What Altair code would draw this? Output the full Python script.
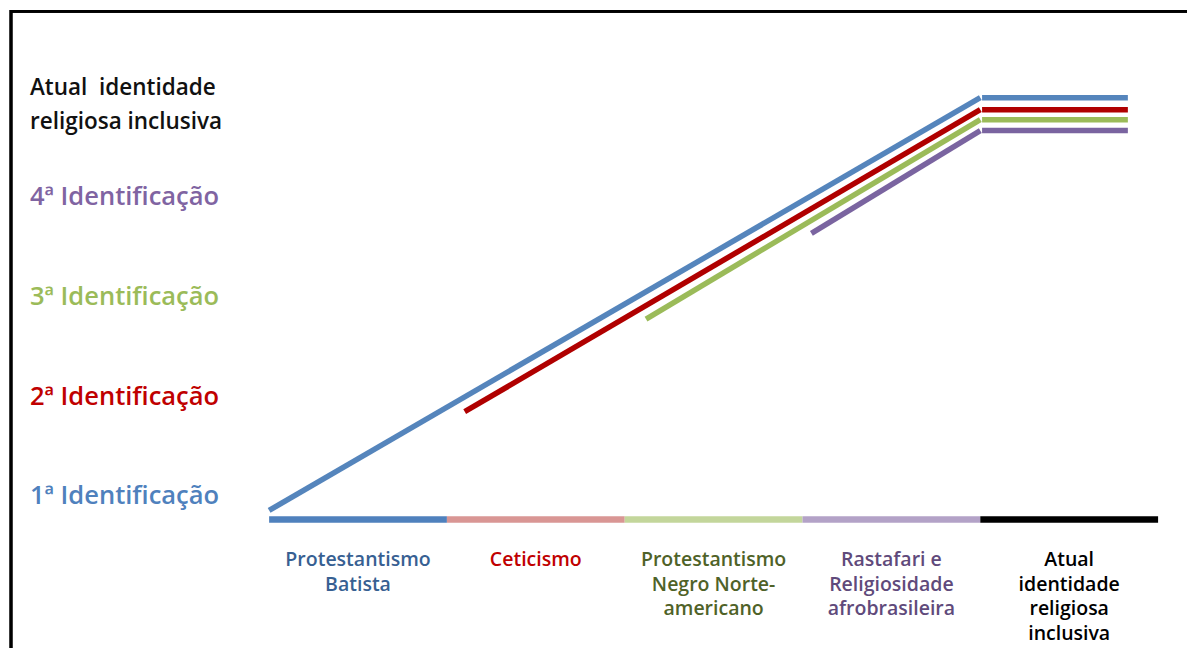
import altair as alt
import pandas as pd

# ---- data (x: stage index, y: identification level) ----
stage_names = [
    "Protestantismo\nBatista",
    "Ceticismo",
    "Protestantismo\nNegro Norte-\namericano",
    "Rastafari e\nReligiosidade\nafrobrasileira",
    "Atual\nidentidade\nreligiosa\ninclusiva",
]
stage_start = [0, 1, 2, 3, 4]
stage_end = [1, 2, 3, 4, 5]
stage_bar_colors = ["#4F81BD", "#D99694", "#C3D69B", "#B3A2C7", "#000000"]
stage_text_colors = ["#376092", "#C00000", "#4F6228", "#604A7B", "#000000"]
stage_bar_level = 0.77
stage_label_level = 0.30

level_labels = [
    "1ª Identificação",
    "2ª Identificação",
    "3ª Identificação",
    "4ª Identificação",
    "Atual\u00a0 identidade\nreligiosa inclusiva",
]
level_values = [1.0, 2.0, 3.0, 4.0, 5.1]
level_colors = ["#4F81BD", "#C00000", "#9BBB59", "#8064A2", "#111111"]
level_font_sizes = [25.5, 25.5, 25.5, 25.5, 22.5]
label_column = -1.345

path_names = ["1ª", "2ª", "3ª", "4ª"]
path_start_x = [0.0, 1.10, 2.12, 3.05]
path_start_y = [0.86, 1.85, 2.78, 3.64]
path_bend_x = [4.0, 4.0, 4.0, 4.0]
path_flat_start_x = [4.01, 4.01, 4.01, 4.01]
path_end_x = [4.83, 4.83, 4.83, 4.83]
path_top_y = [5.0, 4.88, 4.78, 4.67]
path_colors = ["#5585BC", "#B00000", "#9BBB59", "#7A64A0"]

# ---- tables ----
bars = pd.DataFrame({
    "x": stage_start, "x2": stage_end,
    "y": [stage_bar_level] * 5, "color": stage_bar_colors,
})
stage_labels = pd.DataFrame({
    "x": [(a + b) / 2 for a, b in zip(stage_start, stage_end)],
    "y": [stage_label_level] * 5,
    "text": stage_names, "color": stage_text_colors,
})
lvl = pd.DataFrame({
    "x": [label_column] * 5, "y": level_values, "text": level_labels,
    "color": level_colors, "size": level_font_sizes,
})
segs = []
for i, n in enumerate(path_names):
    segs.append({"x": path_start_x[i], "y": path_start_y[i], "x2": path_bend_x[i],
                 "y2": path_top_y[i], "color": path_colors[i], "name": n})
    segs.append({"x": path_flat_start_x[i], "y": path_top_y[i], "x2": path_end_x[i],
                 "y2": path_top_y[i], "color": path_colors[i], "name": n})
paths = pd.DataFrame(segs)

# plot area; pixel scale: 178.4 px per stage, 100 px per level
W, H = 1179, 640
x0_px, y0_px = 260, 590          # where stage 0 / level 0 fall inside the view
xs = alt.Scale(domain=[-x0_px / 178.4, (W - x0_px) / 178.4], nice=False, zero=False)
ys = alt.Scale(domain=[(y0_px - H) / 100, y0_px / 100], nice=False, zero=False)
X = lambda f: alt.X(f, type="quantitative", scale=xs, axis=None)
Y = lambda f: alt.Y(f, type="quantitative", scale=ys, axis=None)

bar_layer = alt.Chart(bars).mark_rule(strokeWidth=6.5, strokeCap="butt").encode(
    x=X("x"), x2="x2", y=Y("y"), color=alt.Color("color:N", scale=None)
)
path_layer = alt.Chart(paths).mark_rule(strokeWidth=5.5, strokeCap="butt").encode(
    x=X("x"), x2="x2", y=Y("y"), y2="y2", color=alt.Color("color:N", scale=None)
)
stage_text = alt.Chart(stage_labels).mark_text(
    font="Open Sans", fontSize=19.5, fontWeight=600, lineBreak="\n", lineHeight=24.5,
    align="center", baseline="alphabetic"
).encode(x=X("x"), y=Y("y"), text="text:N", color=alt.Color("color:N", scale=None))
level_text = alt.Chart(lvl).mark_text(
    font="Open Sans", fontWeight=600, lineBreak="\n", lineHeight=34,
    align="left", baseline="middle"
).encode(
    x=X("x"), y=Y("y"), text="text:N",
    color=alt.Color("color:N", scale=None), size=alt.Size("size:Q", scale=None)
)

frame_top = alt.Chart(bars).mark_rule(color="#000000", strokeWidth=2.5).encode(
    x=alt.value(0), x2=alt.value(W), y=alt.value(3.3)
)
frame_left = alt.Chart(bars).mark_rule(color="#000000", strokeWidth=2.5).encode(
    x=alt.value(1), y=alt.value(2), y2=alt.value(H)
)

chart = alt.layer(
    frame_top, frame_left, bar_layer, path_layer, stage_text, level_text
).properties(
    width=W, height=H, padding=0,
    autosize=alt.AutoSizeParams(type="fit", contains="padding"),
).configure(
    background="#ffffff",
    view=alt.ViewConfig(stroke="transparent", strokeWidth=0),
)

chart.save("out.html", embed_options={"renderer": "svg", "actions": False})
